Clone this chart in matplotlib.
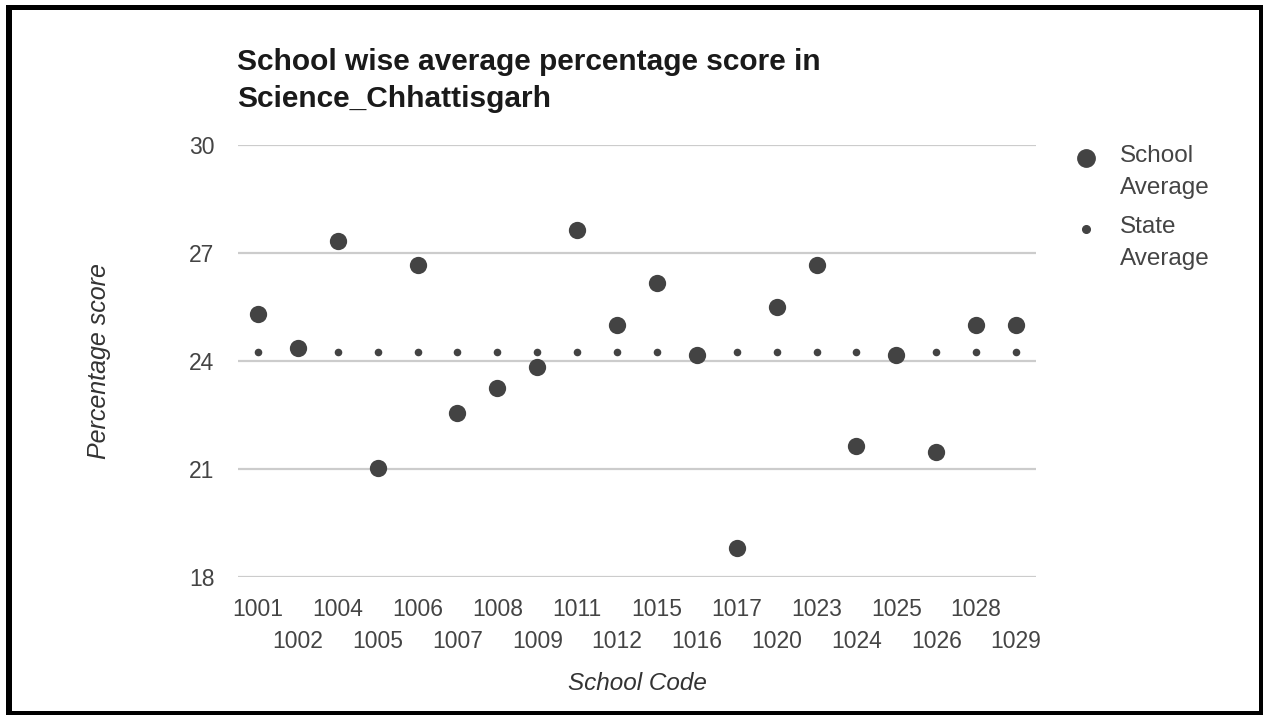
import matplotlib
matplotlib.use("Agg")
import matplotlib.pyplot as plt
from matplotlib.lines import Line2D
from matplotlib.patches import Rectangle

schools = ["1001", "1002", "1004", "1005", "1006", "1007", "1008", "1009", "1011", "1012",
           "1015", "1016", "1017", "1020", "1023", "1024", "1025", "1026", "1028", "1029"]
school_avg = [25.30, 24.37, 27.33, 21.03, 26.67, 22.55, 23.25, 23.83, 27.65, 25.00,
              26.17, 24.17, 18.81, 25.50, 26.67, 21.65, 24.17, 21.48, 25.00, 25.00]
state_avg = [24.26] * len(schools)
y_ticks = [18, 21, 24, 27, 30]
legend_labels = ['School\nAverage', 'State\nAverage']

W, H = 1263, 715
plt.rcParams['font.family'] = ['Liberation Sans', 'DejaVu Sans']
fig = plt.figure(figsize=(W / 100, H / 100), dpi=100)
fig.patch.set_facecolor('white')

ax = fig.add_axes([238 / W, 1 - 577 / H, (1036 - 238) / W, (577 - 145) / H])
x = list(range(len(schools)))
dark = '#434343'
ax.scatter(x, state_avg, s=30, color=dark, zorder=3, linewidths=0)
ax.scatter(x, school_avg, s=155, color=dark, zorder=4, linewidths=0)

ax.set_xlim(-0.5, len(schools) - 0.5)
ax.set_ylim(18, 30)
ax.set_yticks(y_ticks)
ax.set_yticklabels([str(v) for v in y_ticks])
ax.set_xticks(x)
ax.set_xticklabels(schools)
ax.grid(axis='y', color='#cccccc', linewidth=1.6)
ax.set_axisbelow(True)
for s in ax.spines.values():
    s.set_visible(False)
ax.tick_params(axis='both', length=0, labelsize=16.5, labelcolor='#444444')
ax.tick_params(axis='y', pad=17)
for i, t in enumerate(ax.xaxis.get_major_ticks()):
    t.set_pad(15 if i % 2 == 0 else 38)

ax.set_xlabel('School Code', fontsize=17.5, style='italic', color='#333333', labelpad=14)
fig.text(99 / W, 1 - 361 / H, 'Percentage score', fontsize=18, style='italic', color='#333333',
         rotation=90, ha='center', va='center')

fig.text(237 / W, 1 - 48 / H, 'School wise average percentage score in\nScience_Chhattisgarh',
         fontsize=21.5, fontweight='bold', color='#1a1a1a', va='top', ha='left', linespacing=1.42)

# legend (manual)
leg_items = [(158, 12.5), (229, 5.5)]
for (yc, ms), lab in zip(leg_items, legend_labels):
    fig.add_artist(Line2D([1086 / W], [1 - yc / H], marker='o', linestyle='none', color=dark,
                          markersize=ms, transform=fig.transFigure))
    fig.text(1120 / W, 1 - (yc - 13) / H, lab, fontsize=17.5, color='#444444',
             ha='left', va='top', linespacing=1.6)

# black frame
for (x0, y0, w, h) in [(6, 5, W - 6, 5), (6, 5, 6, H - 5), (W - 4, 5, 4, H - 5), (6, H - 4, W - 6, 4)]:
    fig.add_artist(Rectangle((x0 / W, 1 - (y0 + h) / H), w / W, h / H,
                             transform=fig.transFigure, color='black', lw=0))

fig.savefig('out.png', dpi=100)
